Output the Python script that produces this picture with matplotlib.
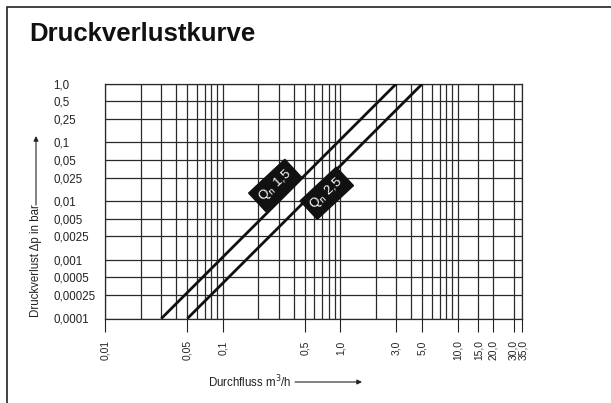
import matplotlib.pyplot as plt
import matplotlib.transforms as mtransforms
from matplotlib.patches import Rectangle

plt.rcParams['font.family'] = ['Liberation Sans', 'DejaVu Sans']

# pressure loss curves (flow m3/h, pressure loss bar)
q_15 = [0.03, 3.0]
dp_15 = [0.0001, 1.0]
q_25 = [0.05, 5.0]
dp_25 = [0.0001, 1.0]

x_ticks = [0.01, 0.05, 0.1, 0.5, 1.0, 3.0, 5.0, 10.0, 15.0, 20.0, 30.0, 35.0]
x_labels = ["0,01", "0,05", "0,1", "0,5", "1,0", "3,0", "5,0",
            "10,0", "15,0", "20,0", "30,0", "35,0"]
y_ticks = [1.0, 0.5, 0.25, 0.1, 0.05, 0.025, 0.01, 0.005, 0.0025,
           0.001, 0.0005, 0.00025, 0.0001]
y_labels = ["1,0", "0,5", "0,25", "0,1", "0,05", "0,025", "0,01", "0,005",
            "0,0025", "0,001", "0,0005", "0,00025", "0,0001"]

# vertical grid lines
x_grid = [k * d for d in (0.01, 0.1, 1.0) for k in range(1, 10)] + [10.0, 15.0, 20.0, 30.0, 35.0]

# label positions for the two curves
label_15 = (0.28, 0.0185)
label_25 = (0.767, 0.0136)

W, H = 611, 403
fig = plt.figure(figsize=(W / 100, H / 100), dpi=100)

# frame around the sheet (left + top edges visible)
fig.patches.append(Rectangle((6.5 / W, -0.1), 1.2, 1.1 - 7.5 / H,
                             transform=fig.transFigure, fill=False,
                             edgecolor='#222222', lw=1.2))

fig.text(29 / W, 1 - 41 / H, "Druckverlustkurve", fontsize=18.5, fontweight='bold',
         family=['Liberation Sans Narrow', 'Liberation Sans', 'DejaVu Sans'],
         ha='left', va='baseline', color='#111111')

left, right, top, bottom = 105.3, 521.7, 83.7, 318.5
ax = fig.add_axes([left / W, 1 - bottom / H, (right - left) / W, (bottom - top) / H])
ax.set_xscale('log')
ax.set_yscale('log')
ax.set_xlim(0.01, 35)
ax.set_ylim(0.0001, 1.0)

for v in x_grid:
    ax.axvline(v, color='#2a2a2a', lw=0.9, zorder=1)
for v in y_ticks:
    ax.axhline(v, color='#2a2a2a', lw=0.9, zorder=1)

ax.plot(q_15, dp_15, color='#111111', lw=2.0, zorder=3, solid_capstyle='butt')
ax.plot(q_25, dp_25, color='#111111', lw=2.0, zorder=3, solid_capstyle='butt')

box = dict(boxstyle='square,pad=0.35', fc='#111111', ec='#111111')
ax.text(label_15[0], label_15[1], "Q$_\\mathrm{n}$ 1,5", color='white', fontsize=9.5,
        rotation=43, rotation_mode='anchor', ha='center', va='center', bbox=box, zorder=4)
ax.text(label_25[0], label_25[1], "Q$_\\mathrm{n}$ 2,5", color='white', fontsize=9.5,
        rotation=43, rotation_mode='anchor', ha='center', va='center', bbox=box, zorder=4)

ax.xaxis.set_minor_locator(plt.NullLocator())
ax.yaxis.set_minor_locator(plt.NullLocator())
ax.set_xticks(x_ticks)
ax.set_xticklabels(x_labels, rotation=90, fontsize=7.4, color='#222222')
ax.set_yticks(y_ticks)
ax.set_yticklabels(y_labels, fontsize=8.3, color='#222222')
ax.tick_params(axis='x', length=9.4, width=0.8, color='#222222', pad=6.3)
ax.tick_params(axis='y', length=0, pad=37.4)
for lbl in ax.get_yticklabels():
    lbl.set_ha('left')

# the last two x labels sit very close: nudge them apart a little
xlbls = ax.get_xticklabels()
for lbl, dx in ((xlbls[-2], -1.2), (xlbls[-1], 1.2)):
    lbl.set_transform(lbl.get_transform() +
                      mtransforms.ScaledTranslation(dx / 100, 0, fig.dpi_scale_trans))

for s in ax.spines.values():
    s.set_color('#2a2a2a')
    s.set_linewidth(0.9)

# axis titles with arrows
fig.text(36 / W, 1 - 261 / H, "Druckverlust \u0394p in bar", rotation=90,
         fontsize=8.3, ha='center', va='center', color='#222222')
ax.annotate("", xy=(36 / W, 1 - 136 / H), xytext=(36 / W, 1 - 205 / H),
            xycoords='figure fraction', textcoords='figure fraction',
            arrowprops=dict(arrowstyle='-|>', color='#222222', lw=0.8,
                            mutation_scale=7, shrinkA=0, shrinkB=0))

fig.text(250 / W, 1 - 382 / H, "Durchfluss m$^3$/h", fontsize=8.3,
         ha='center', va='center', color='#222222')
ax.annotate("", xy=(362 / W, 1 - 382 / H), xytext=(295 / W, 1 - 382 / H),
            xycoords='figure fraction', textcoords='figure fraction',
            arrowprops=dict(arrowstyle='-|>', color='#222222', lw=0.8,
                            mutation_scale=7, shrinkA=0, shrinkB=0))

fig.savefig("out.png", dpi=100)
